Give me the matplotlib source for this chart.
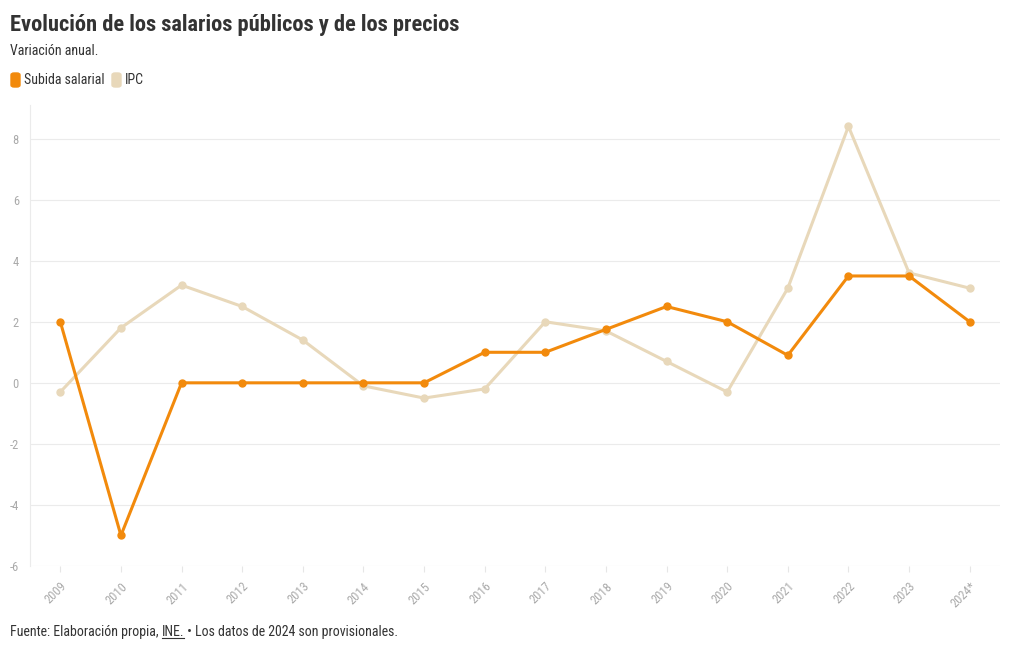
import matplotlib
matplotlib.use("Agg")
import matplotlib.pyplot as plt
from matplotlib.patches import FancyBboxPatch
from matplotlib.lines import Line2D

years = ["2009", "2010", "2011", "2012", "2013", "2014", "2015", "2016",
         "2017", "2018", "2019", "2020", "2021", "2022", "2023", "2024*"]
subida_salarial = [2, -5, 0, 0, 0, 0, 0, 1, 1, 1.75, 2.5, 2, 0.9, 3.5, 3.5, 2]
ipc = [-0.3, 1.8, 3.2, 2.5, 1.4, -0.1, -0.5, -0.2, 2.0, 1.7, 0.7, -0.3, 3.1, 8.4, 3.6, 3.1]
y_ticks = [-6, -4, -2, 0, 2, 4, 6, 8]

orange = "#F28A0C"
beige = "#E8D8BA"
dark = "#333333"
grey = "#AAAAAA"

plt.rcParams["font.family"] = ["Roboto Condensed", "Liberation Sans Narrow", "Roboto", "DejaVu Sans"]

fig = plt.figure(figsize=(10.2, 6.5), dpi=100)
ax = fig.add_axes([30 / 1020, 84 / 650, 970 / 1020, 461 / 650])

x = list(range(len(years)))
ax.plot(x, ipc, color=beige, lw=2.2, marker="o", ms=5, zorder=2)
ax.plot(x, subida_salarial, color=orange, lw=2.2, marker="o", ms=5, zorder=3)

ax.set_xlim(-0.5, len(years) - 0.5)
ax.set_ylim(-6, 9.1)
ax.set_yticks(y_ticks)
ax.set_yticklabels([str(v) for v in y_ticks])
ax.set_xticks(x)
ax.set_xticklabels(years, rotation=45, ha="right", rotation_mode="anchor")
ax.tick_params(axis="both", colors=grey, labelsize=9)
ax.tick_params(axis="y", length=0, pad=8)
ax.tick_params(axis="x", length=4, color="#E6E6E6", width=0.8, pad=6)
ax.grid(axis="y", color="#EBEBEB", lw=0.8)
ax.set_axisbelow(True)
for s in ["top", "right", "bottom"]:
    ax.spines[s].set_visible(False)
ax.spines["left"].set_color("#EBEBEB")

# titles
fig.text(10 / 1020, 1 - 25 / 650, "Evolución de los salarios públicos y de los precios",
         fontsize=16.2, fontweight="bold", color=dark, va="center")
fig.text(10 / 1020, 1 - 51 / 650, "Variación anual.", fontsize=10, color=dark, va="center")

# legend
for lx, label, col in [(11, "Subida salarial", orange), (112, "IPC", beige)]:
    fig.patches.append(FancyBboxPatch((lx / 1020, 1 - 87 / 650), 9 / 1020, 14 / 650,
                                      boxstyle="round,pad=0,rounding_size=0.003",
                                      transform=fig.transFigure, color=col))
    fig.text((lx + 13) / 1020, 1 - 80 / 650, label, fontsize=10, color=dark, va="center")

# footer
y_f = 1 - 632 / 650
t1 = fig.text(10 / 1020, y_f, "Fuente: Elaboración propia, ", fontsize=10, color=dark, va="center")
fig.canvas.draw()
r = fig.canvas.get_renderer()
bb = t1.get_window_extent(r)
t2 = fig.text(bb.x1 / 1020, y_f, "INE.", fontsize=10, color=dark, va="center")
bb2 = t2.get_window_extent(r)
fig.lines.append(Line2D([bb2.x0 / 1020, bb2.x1 / 1020], [(bb2.y0 + 1) / 650] * 2,
                        transform=fig.transFigure, color=dark, lw=0.8))
fig.text(bb2.x1 / 1020, y_f, " • Los datos de 2024 son provisionales.", fontsize=10,
         color=dark, va="center")

fig.savefig("out.png", dpi=100, facecolor="white")
